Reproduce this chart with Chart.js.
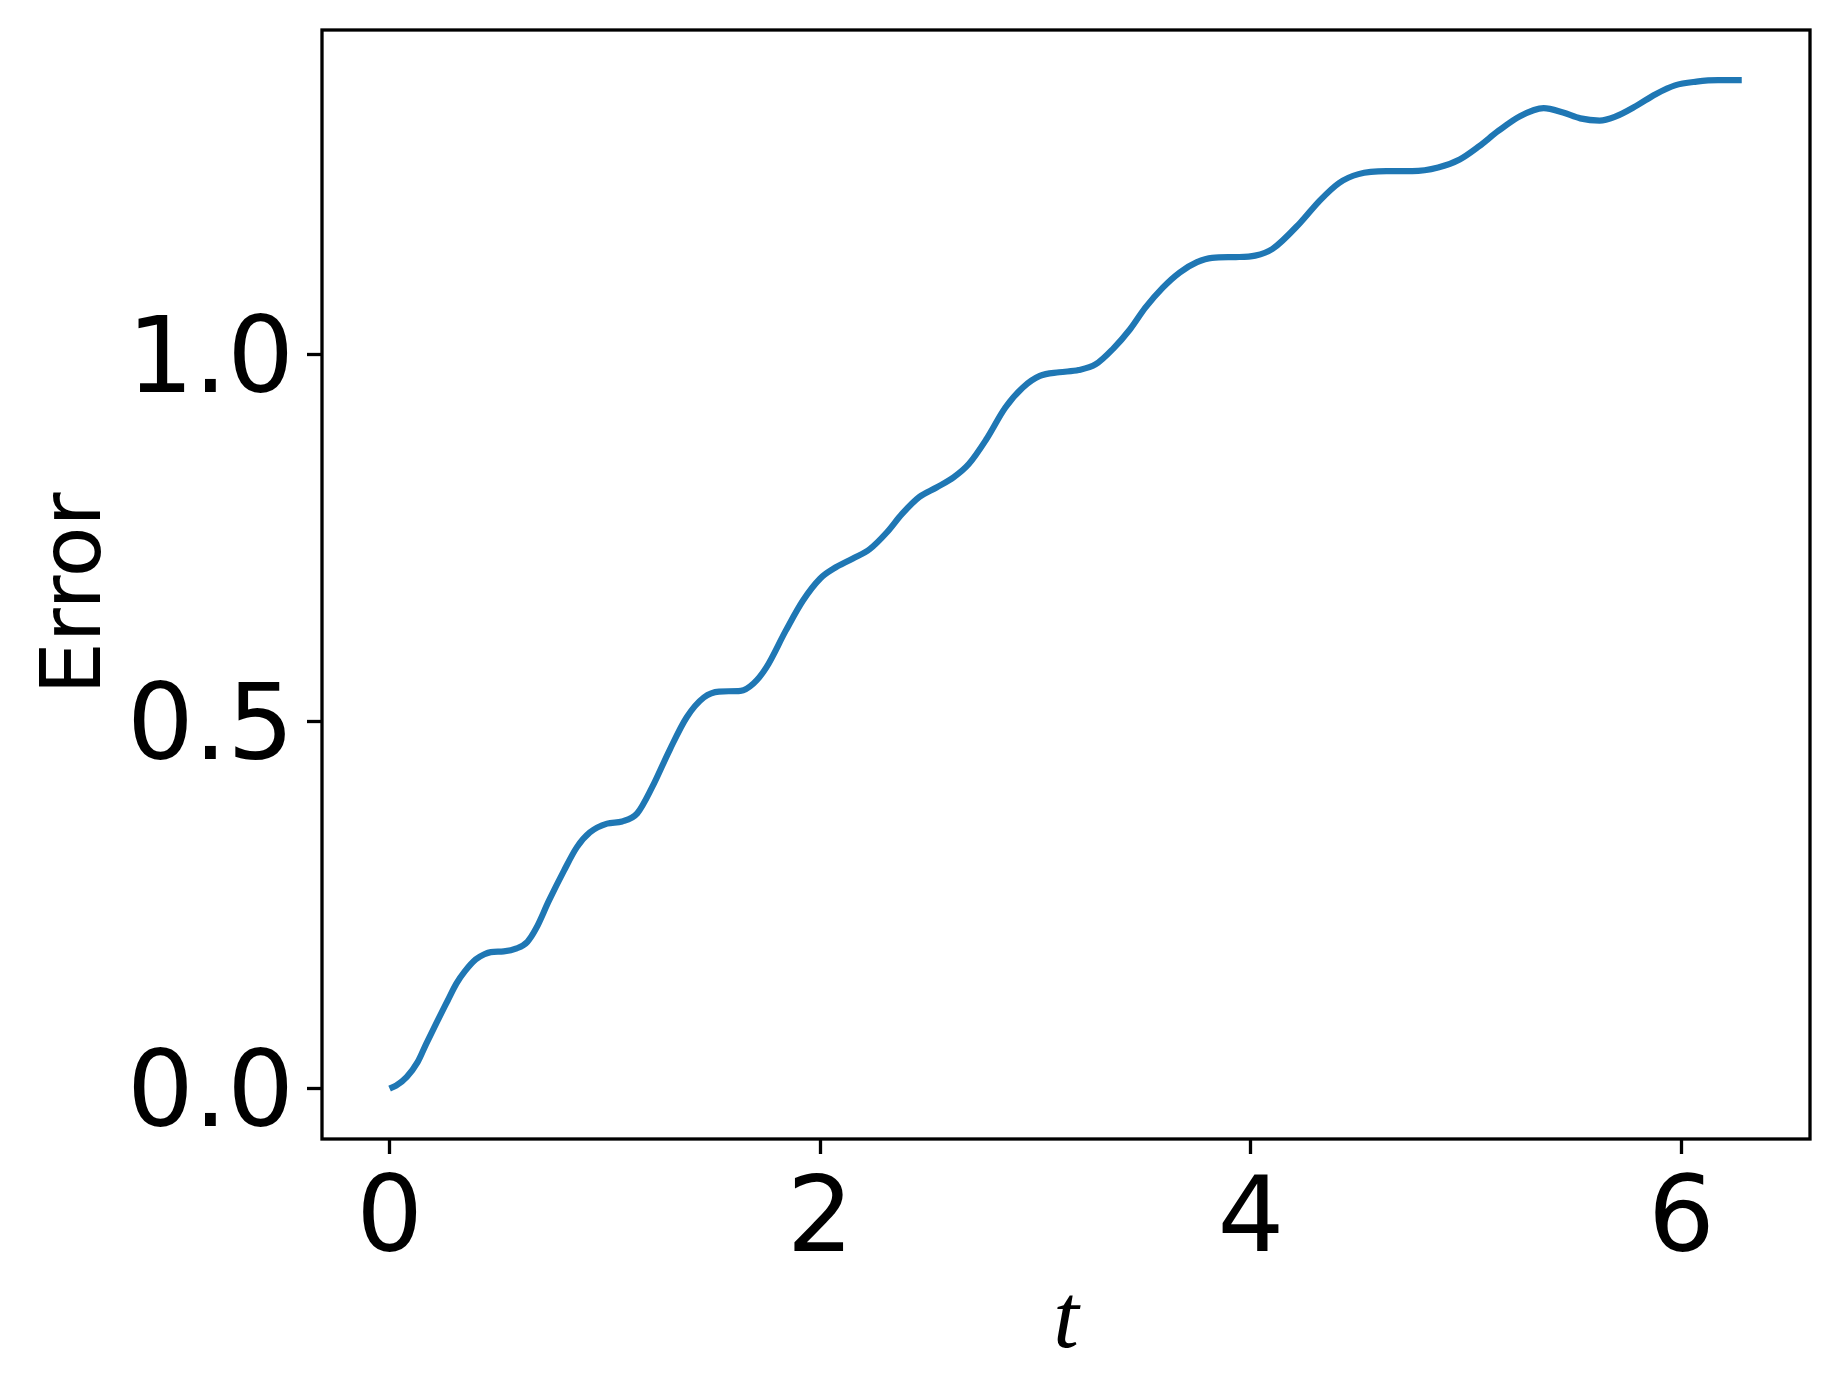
<!DOCTYPE html>
<html>
<head>
<meta charset="utf-8">
<script src="https://cdn.jsdelivr.net/npm/chart.js@4.4.0/dist/chart.umd.min.js"></script>
<style>
  body { margin: 0; background: #fff; }
  #wrap { width: 1840px; height: 1396px; }
</style>
</head>
<body>
<div id="wrap"><canvas id="myChart" width="1840" height="1396"></canvas></div>
<script>
// data
const tValues = [0.00, 0.03, 0.08, 0.13, 0.17, 0.22, 0.27, 0.31, 0.35, 0.40, 0.44, 0.47, 0.53, 0.59, 0.64, 0.68, 0.74, 0.81, 0.87, 0.93, 1.01, 1.08, 1.15, 1.22, 1.30, 1.38, 1.46, 1.53, 1.63, 1.69, 1.75, 1.84, 1.92, 2.00, 2.06, 2.15, 2.23, 2.31, 2.38, 2.46, 2.54, 2.62, 2.69, 2.77, 2.86, 2.94, 3.02, 3.11, 3.20, 3.28, 3.36, 3.44, 3.51, 3.59, 3.67, 3.75, 3.82, 3.93, 4.02, 4.10, 4.23, 4.32, 4.41, 4.50, 4.63, 4.75, 4.87, 4.97, 5.06, 5.15, 5.25, 5.36, 5.45, 5.53, 5.62, 5.69, 5.79, 5.88, 5.97, 6.07, 6.17, 6.28];
const errorValues = [0.000, 0.004, 0.016, 0.036, 0.061, 0.091, 0.120, 0.143, 0.160, 0.176, 0.183, 0.186, 0.187, 0.191, 0.200, 0.218, 0.256, 0.297, 0.329, 0.349, 0.361, 0.364, 0.375, 0.411, 0.461, 0.506, 0.533, 0.541, 0.542, 0.552, 0.574, 0.624, 0.665, 0.695, 0.708, 0.722, 0.735, 0.758, 0.783, 0.806, 0.819, 0.833, 0.851, 0.884, 0.928, 0.955, 0.971, 0.976, 0.979, 0.987, 1.008, 1.035, 1.064, 1.091, 1.112, 1.126, 1.132, 1.133, 1.135, 1.144, 1.180, 1.210, 1.234, 1.246, 1.250, 1.250, 1.255, 1.266, 1.284, 1.305, 1.325, 1.336, 1.330, 1.322, 1.319, 1.324, 1.339, 1.355, 1.367, 1.372, 1.374, 1.374];
const xTicks = [0, 2, 4, 6];
const yTicks = [0.0, 0.5, 1.0];
const xRange = [-0.314, 6.597];
const yRange = [-0.0687, 1.4424];

const points = tValues.map((t, i) => ({ x: t, y: errorValues[i] }));

const lineW = 3.3;

// the black box round the plot
const frame = {
  id: 'frame',
  afterDraw(chart) {
    const { ctx, chartArea: { left, top, width, height } } = chart;
    ctx.save();
    ctx.strokeStyle = '#000';
    ctx.lineWidth = lineW;
    ctx.strokeRect(left, top, width, height);
    ctx.restore();
  }
};

// matplotlib puts the y tick labels and the y title a bit lower
function nudge(fn, dy) {
  return function (area) {
    this.ctx.save();
    this.ctx.translate(0, dy);
    fn.call(this, area);
    this.ctx.restore();
  };
}
const shiftYLabels = {
  id: 'shiftYLabels',
  afterLayout(chart) {
    const s = chart.scales.y;
    if (s._shifted) return;
    s.drawLabels = nudge(s.drawLabels, 10);
    s.drawTitle = nudge(s.drawTitle, 9);
    s._shifted = true;
  }
};

const tickFont = { family: 'DejaVu Sans', size: 105, lineHeight: 1 };

const config = {
  type: 'line',
  data: {
    datasets: [{
      label: 'Error',
      data: points,
      borderColor: '#1f77b4',
      borderWidth: 6.2,
      pointRadius: 0,
      cubicInterpolationMode: 'monotone',
      fill: false
    }]
  },
  options: {
    responsive: false,
    animation: false,
    devicePixelRatio: 1,
    layout: { padding: { top: 30, right: 30, left: 0, bottom: 0 } },
    plugins: { legend: { display: false }, tooltip: { enabled: false } },
    scales: {
      x: {
        type: 'linear',
        min: xRange[0],
        max: xRange[1],
        afterBuildTicks: s => { s.ticks = xTicks.map(v => ({ value: v })); },
        afterFit: s => { s.height = 257; s.paddingLeft = 0; s.paddingRight = 0; },
        grid: { drawOnChartArea: false, drawTicks: true, tickLength: 15, tickWidth: lineW, tickColor: '#000' },
        border: { display: false },
        ticks: { color: '#000', font: tickFont, padding: 17, maxRotation: 0, autoSkip: false,
          callback: v => String(v) },
        title: { display: true, text: 't', color: '#000',
          font: { family: 'Liberation Serif', style: 'italic', size: 92, lineHeight: 1 },
          padding: { top: 0, bottom: 27 } }
      },
      y: {
        type: 'linear',
        min: yRange[0],
        max: yRange[1],
        afterBuildTicks: s => { s.ticks = yTicks.map(v => ({ value: v })); },
        afterFit: s => { s.width = 322; s.paddingTop = 0; s.paddingBottom = 0; },
        grid: { drawOnChartArea: false, drawTicks: true, tickLength: 15, tickWidth: lineW, tickColor: '#000' },
        border: { display: false },
        ticks: { color: '#000', font: tickFont, padding: 13, autoSkip: false,
          callback: v => v.toFixed(1) },
        title: { display: true, text: 'Error', color: '#000',
          font: { family: 'DejaVu Sans', size: 83, lineHeight: 1 },
          padding: { top: 37, bottom: 0 } }
      }
    }
  },
  plugins: [frame, shiftYLabels]
};

const myChart = new Chart(document.getElementById('myChart'), config);
</script>
</body>
</html>
